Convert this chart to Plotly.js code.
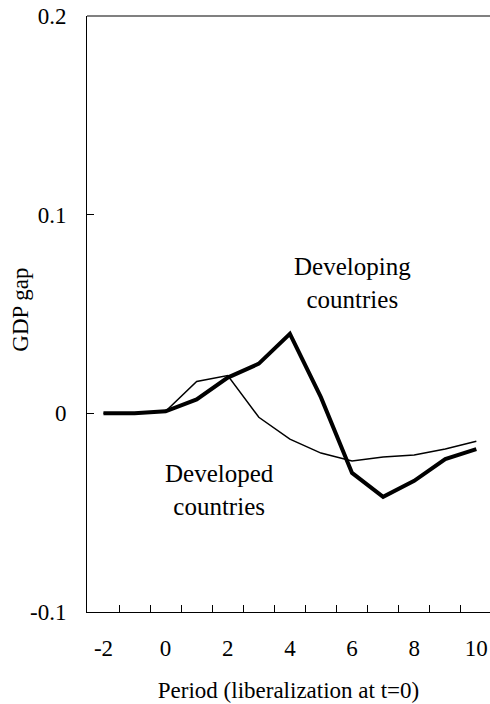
<!DOCTYPE html>
<html>
<head>
<meta charset="utf-8">
<script src="https://cdn.plot.ly/plotly-3.0.1.min.js"></script>
<style>
html,body{margin:0;padding:0;background:#fff;overflow:hidden;}
#chart{width:490px;height:704px;}
</style>
</head>
<body>
<div id="chart"></div>
<script>
// Period relative to liberalization (t = 0)
const periods = [-2, -1, 0, 1, 2, 3, 4, 5, 6, 7, 8, 9, 10];
// GDP gap, developing countries (thick line)
const developing = [0, 0, 0.001, 0.007, 0.018, 0.025, 0.040, 0.008, -0.030, -0.042, -0.034, -0.023, -0.018];
// GDP gap, developed countries (thin line)
const developed = [0, 0, 0.001, 0.016, 0.019, -0.002, -0.013, -0.020, -0.024, -0.022, -0.021, -0.018, -0.014];

const yTickVals = [-0.1, 0, 0.1, 0.2];
const yTickText = ["-0.1", "0", "0.1", "0.2"];
const xLabelVals = [-2, 0, 2, 4, 6, 8, 10];
const xLabelText = ["-2", "0", "2", "4", "6", "8", "10"];
const xMinorTicks = [-1.5, -0.5, 0.5, 1.5, 2.5, 3.5, 4.5, 5.5, 6.5, 7.5, 8.5, 9.5];

const yTitle = "GDP gap";
const xTitle = "Period (liberalization at t=0)";
const seriesNames = ["Developing<br>countries", "Developed<br>countries"];
const labelPos = [[6.0, 0.0655], [1.73, -0.0385]];

const FONT = "Liberation Serif, Times New Roman, Times, serif";

const traces = [
  {x: periods, y: developing, type: 'scatter', mode: 'lines',
   line: {color: '#000', width: 4}, hoverinfo: 'skip'},
  {x: periods, y: developed, type: 'scatter', mode: 'lines',
   line: {color: '#000', width: 1.5}, hoverinfo: 'skip'}
];

const annotations = seriesNames.map((t, i) => ({
  x: labelPos[i][0], y: labelPos[i][1], xref: 'x', yref: 'y',
  text: t, showarrow: false, xanchor: 'center', yanchor: 'middle',
  font: {family: FONT, size: 25, color: '#000'}
}));
annotations.push({
  x: -0.166, y: 0.5075, xref: 'paper', yref: 'paper',
  text: yTitle, showarrow: false, textangle: -90,
  xanchor: 'center', yanchor: 'middle',
  font: {family: FONT, size: 23, color: '#000'}
});

const layout = {
  width: 490, height: 704,
  margin: {l: 87, r: 0, t: 16, b: 92, pad: 0},
  paper_bgcolor: '#fff', plot_bgcolor: '#fff',
  showlegend: false,
  font: {family: FONT, size: 23, color: '#000'},
  xaxis: {
    range: [-2.53, 10.44],
    showgrid: false, zeroline: false,
    showline: true, linecolor: '#000', linewidth: 1,
    tickmode: 'array', tickvals: xLabelVals, ticktext: xLabelText,
    ticks: '', ticklabelstandoff: 15,
    tickfont: {family: FONT, size: 23, color: '#000'},
    minor: {tickmode: 'array', tickvals: xMinorTicks, ticks: 'inside', ticklen: 7, tickcolor: '#000', tickwidth: 1, showgrid: false},
    title: {text: xTitle, font: {family: FONT, size: 23, color: '#000'}, standoff: 22},
    fixedrange: true
  },
  yaxis: {
    range: [-0.1, 0.2],
    showgrid: false, zeroline: false,
    showline: true, linecolor: '#000', linewidth: 1,
    tickmode: 'array', tickvals: yTickVals, ticktext: yTickText,
    ticks: 'inside', ticklen: 7, tickcolor: '#000', tickwidth: 1,
    ticklabelstandoff: 15,
    tickfont: {family: FONT, size: 23, color: '#000'},
    fixedrange: true
  },
  shapes: [
    {type: 'line', xref: 'paper', yref: 'paper', x0: 0, x1: 1, y0: 1, y1: 1,
     line: {color: '#808080', width: 2}}
  ],
  annotations: annotations
};

Plotly.newPlot('chart', traces, layout, {staticPlot: true, displayModeBar: false});
</script>
</body>
</html>
